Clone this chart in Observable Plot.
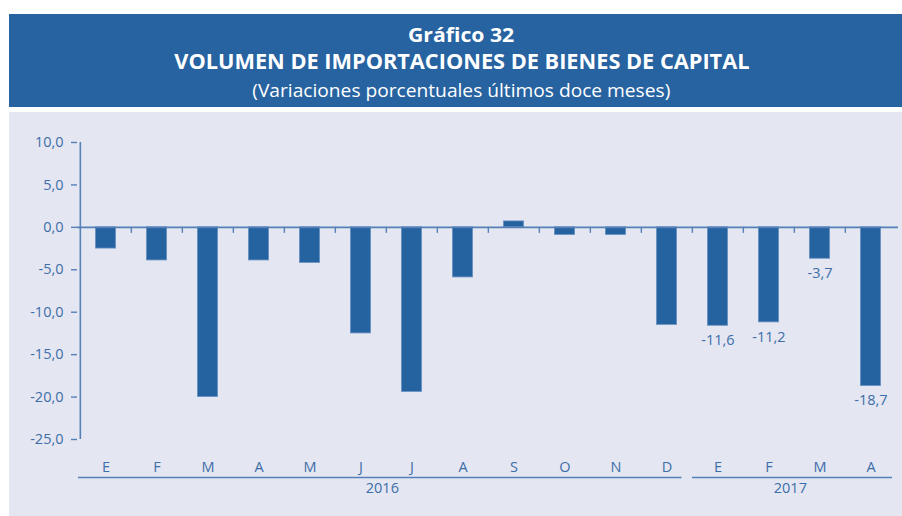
<!DOCTYPE html>
<html>
<head>
<meta charset="utf-8">
<script src="https://cdn.jsdelivr.net/npm/d3@7"></script>
<script src="https://cdn.jsdelivr.net/npm/@observablehq/plot@0.6"></script>
<style>
  html, body { margin: 0; padding: 0; background: #ffffff; }
  body { width: 902px; height: 516px; overflow: hidden; font-family: "Open Sans", "Noto Sans", sans-serif; }
  #header {
    position: absolute; left: 9px; top: 14px; width: 893px; height: 93px;
    background: #2763a1; color: #ffffff; text-align: center;
  }
  #header .line { position: absolute; left: 12px; right: 0; line-height: 24px; white-space: nowrap; }
  #header .line span { display: inline-block; transform-origin: 50% 50%; }
  #header .t1 { top: 9px; font-size: 20px; font-weight: 700; }
  #header .t1 span { transform: scaleX(1.06); }
  #header .t2 { top: 35px; font-size: 21px; font-weight: 700; }
  #header .t2 span { transform: scaleX(1.035); }
  #header .t3 { top: 63.5px; font-size: 18px; font-weight: 400; }
  #header .t3 span { transform: scaleX(1.065); }
  #chart { position: absolute; left: 9px; top: 112px; width: 893px; height: 404px; background: #e4e6f1; }
  #chart svg { display: block; }
</style>
</head>
<body>
<div id="header">
  <div class="line t1"><span>Gráfico 32</span></div>
  <div class="line t2"><span>VOLUMEN DE IMPORTACIONES DE BIENES DE CAPITAL</span></div>
  <div class="line t3"><span>(Variaciones porcentuales últimos doce meses)</span></div>
</div>
<div id="chart"></div>
<script>
// ---- data ----
const keys = ["2016-01","2016-02","2016-03","2016-04","2016-05","2016-06","2016-07","2016-08","2016-09","2016-10","2016-11","2016-12","2017-01","2017-02","2017-03","2017-04"];
const monthLabels = ["E","F","M","A","M","J","J","A","S","O","N","D","E","F","M","A"];
const values = [-2.5, -3.9, -20.0, -3.9, -4.2, -12.5, -19.4, -5.9, 0.7, -0.9, -0.9, -11.5, -11.6, -11.2, -3.7, -18.7];
const labeledKeys = ["2017-01","2017-02","2017-03","2017-04"];
const years = ["2016", "2017"];
const yearFirst = ["2016-01", "2017-01"];
const yearLast = ["2016-12", "2017-04"];
const yearMid = ["2016-07", "2017-03"];
const yTicks = [10, 5, 0, -5, -10, -15, -20, -25];

// ---- layout / style ----
const W = 893, H = 404, mL = 68, mR = 4, mT = 30, mB = 77;
const step = (W - mL - mR) / keys.length;
const pxPerUnit = (H - mT - mB) / 35;
const barColor = "#2562a0";
const textColor = "#3d6ea9";
const axisColor = "#5581b8";
const fmt = d => d3.format(".1f")(d).replace("\u2212", "-").replace(".", ",");

const data = keys.map((k, i) => ({key: k, month: monthLabels[i], value: values[i]}));
const labeled = data.filter(d => labeledKeys.includes(d.key));
const yearData = years.map((y, i) => ({year: y, first: yearFirst[i], last: yearLast[i], mid: yearMid[i]}));

const chart = Plot.plot({
  width: W, height: H,
  marginLeft: mL, marginRight: mR, marginTop: mT, marginBottom: mB,
  style: {background: "transparent", fontFamily: "'Open Sans', 'Noto Sans', sans-serif", overflow: "visible"},
  x: {type: "band", domain: keys, padding: 0, axis: null},
  y: {domain: [-25, 10], axis: null},
  marks: [
    Plot.barY(data, {x: "key", y: "value", fill: barColor, stroke: "#6b93c3", strokeWidth: 0.8,
      insetLeft: step * 0.3, insetRight: step * 0.3}),
    // y axis line
    Plot.ruleX([keys[0]], {x: d => d, y1: -25, y2: 10, dx: -step / 2, stroke: axisColor, strokeWidth: 1.6}),
    // zero line
    Plot.ruleY([0], {stroke: axisColor, strokeWidth: 1.6}),
    // category boundary ticks below zero
    Plot.ruleX(keys.slice(1), {x: d => d, y1: 0, y2: -6 / pxPerUnit, dx: -step / 2, stroke: axisColor, strokeWidth: 1.4}),
    Plot.axisY({ticks: yTicks, tickFormat: fmt, tickSize: 6, tickPadding: 8, fontSize: 14.5,
      color: textColor, stroke: axisColor, strokeWidth: 1.4, label: null}),
    // value labels
    Plot.text(labeled, {x: "key", y: "value", text: d => fmt(d.value), dy: 14.5, fill: textColor, fontSize: 14.5, lineAnchor: "middle"}),
    // month labels
    Plot.text(data, {x: "key", text: "month", frameAnchor: "bottom", dy: 28, fill: textColor, fontSize: 14.5, lineAnchor: "middle"}),
    // year underlines
    Plot.ruleY([yearData[0]], {x1: "first", x2: "last", y: () => -25, dy: 38, insetLeft: -2, insetRight: 10.5, stroke: axisColor, strokeWidth: 1.6}),
    Plot.ruleY([yearData[1]], {x1: "first", x2: "last", y: () => -25, dy: 38, insetLeft: 0, insetRight: 4, stroke: axisColor, strokeWidth: 1.6}),
    // year labels
    Plot.text(yearData, {x: "mid", text: "year", frameAnchor: "bottom", dy: 49, dx: -step / 2 - 4, fill: textColor, fontSize: 14.5, lineAnchor: "middle"})
  ]
});
document.getElementById("chart").appendChild(chart);
</script>
</body>
</html>
